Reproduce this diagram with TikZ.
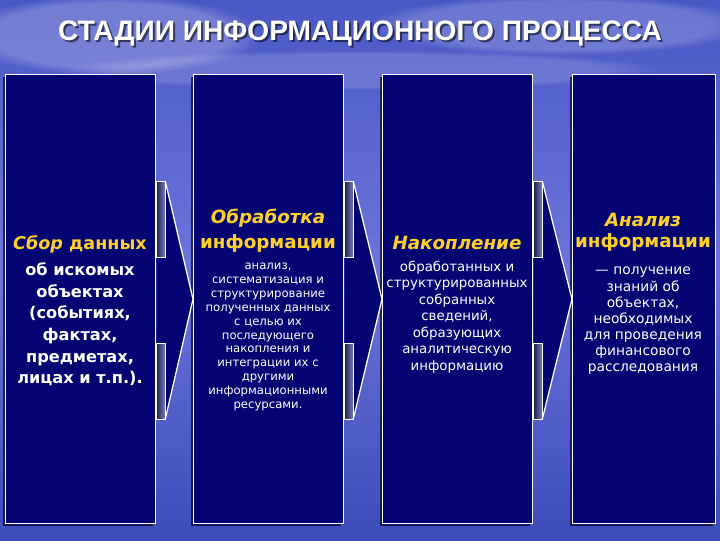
\documentclass[tikz,border=0pt]{standalone}
\usepackage{fontspec}
\setmainfont{DejaVu Sans}
\newfontfamily\titlefont{Liberation Sans}
\usepackage{tikz}
\usetikzlibrary{positioning,calc,shadows,fadings}

\newcommand\pxu{0.025cm}

\definecolor{boxnavy}{RGB}{4,4,114}
\definecolor{skytop}{RGB}{74,88,198}
\definecolor{skymid}{RGB}{108,116,218}
\definecolor{skybot}{RGB}{60,76,186}
\definecolor{headgold}{RGB}{255,208,40}
\definecolor{stripdark}{RGB}{30,30,55}
\definecolor{striplight}{RGB}{120,126,212}

\tikzset{
	stagebox/.style={fill=boxnavy, draw=white, line width=0.9pt, inner sep=0pt, anchor=north west,
		minimum width=150*\pxu, minimum height=449*\pxu,
		drop shadow={shadow xshift=-3*\pxu, shadow yshift=-2*\pxu, opacity=0.7, fill=black!80!blue}},
	stagehead/.style={text=headgold, align=center, inner sep=1pt, font=\bfseries\fontsize{13}{17.7}\selectfont},
	stagetext/.style={text=white, align=center, inner sep=1pt},
	tipline/.style={draw=white, line width=0.9pt},
	sidestrip/.style={left color=stripdark, right color=striplight, draw=white, line width=0.6pt}
}

\begin{document}
\begin{tikzpicture}[x=0.025cm, y=-0.025cm]
	\useasboundingbox (0,0) rectangle (720,540);
	
	%Sky
	\fill[top color=skytop, bottom color=skybot, middle color=skymid] (0,0) rectangle (720,540);
	\fill[white, opacity=0.22, path fading=circle with fuzzy edge 20 percent] (110,35) ellipse (150 and 40);
	\fill[white, opacity=0.18, path fading=circle with fuzzy edge 20 percent] (560,25) ellipse (190 and 30);
	\fill[white, opacity=0.15, path fading=circle with fuzzy edge 20 percent] (360,70) ellipse (300 and 20);
	
	%Title
	\node[black, opacity=0.55, font=\titlefont\bfseries\fontsize{20}{24}\selectfont] (titleshadow) at (362,35) {СТАДИИ ИНФОРМАЦИОННОГО ПРОЦЕССА};
	\node[white, font=\titlefont\bfseries\fontsize{20}{24}\selectfont] (title) at (360,33) {СТАДИИ ИНФОРМАЦИОННОГО ПРОЦЕССА};
	
	%Boxes
	\node[stagebox] (b1) at (5,74) {};
	\node[stagebox] (b2) at (193,74) {};
	\node[stagebox] (b3) at (382,74) {};
	\node[stagebox, minimum width=143*\pxu] (b4) at (572,74) {};
	
	%Chevrons
	\fill[boxnavy] ($(b1.east)+(0,-118)$) -- ($(b1.east)+(9,-118)$) -- (b2.west) -- ($(b1.east)+(9,120)$) -- ($(b1.east)+(0,120)$) -- cycle;
	\shade[sidestrip] ($(b1.east)+(0,-118)$) rectangle ($(b1.east)+(9,-42)$);
	\shade[sidestrip] ($(b1.east)+(0,44)$) rectangle ($(b1.east)+(9,120)$);
	\draw[tipline] ($(b1.east)+(9,-118)$) -- (b2.west) -- ($(b1.east)+(9,120)$);
	
	\fill[boxnavy] ($(b2.east)+(0,-118)$) -- ($(b2.east)+(9,-118)$) -- (b3.west) -- ($(b2.east)+(9,120)$) -- ($(b2.east)+(0,120)$) -- cycle;
	\shade[sidestrip] ($(b2.east)+(0,-118)$) rectangle ($(b2.east)+(9,-42)$);
	\shade[sidestrip] ($(b2.east)+(0,44)$) rectangle ($(b2.east)+(9,120)$);
	\draw[tipline] ($(b2.east)+(9,-118)$) -- (b3.west) -- ($(b2.east)+(9,120)$);
	
	\fill[boxnavy] ($(b3.east)+(0,-118)$) -- ($(b3.east)+(9,-118)$) -- (b4.west) -- ($(b3.east)+(9,120)$) -- ($(b3.east)+(0,120)$) -- cycle;
	\shade[sidestrip] ($(b3.east)+(0,-118)$) rectangle ($(b3.east)+(9,-42)$);
	\shade[sidestrip] ($(b3.east)+(0,44)$) rectangle ($(b3.east)+(9,120)$);
	\draw[tipline] ($(b3.east)+(9,-118)$) -- (b4.west) -- ($(b3.east)+(9,120)$);
	
	%Stage 1
	\node[stagehead, font=\bfseries\fontsize{12.5}{15}\selectfont] (h1) at (80,244) {\textit{Сбор} данных};
	\node[stagetext, font=\bfseries\fontsize{11.5}{15.4}\selectfont] (t1) at (80,324.5) {об искомых\\объектах\\(событиях,\\фактах,\\предметах,\\лицах и т.п.).};
	
	%Stage 2
	\node[stagehead] (h2) at (268,230.5) {\textit{Обработка}\\информации};
	\node[stagetext, font=\fontsize{8.3}{9.9}\selectfont] (t2) at (268,337) {анализ,\\систематизация и\\структурирование\\полученных данных\\с целью их\\последующего\\накопления и\\интеграции их с\\другими\\информационными\\ресурсами.};
	
	%Stage 3
	\node[stagehead] (h3) at (457,243) {\textit{Накопление}};
	\node[stagetext, font=\fontsize{9.5}{11.8}\selectfont] (t3) at (457,317) {обработанных и\\структурированных\\собранных\\сведений,\\образующих\\аналитическую\\информацию};
	
	%Stage 4
	\node[stagehead, font=\bfseries\fontsize{13}{15}\selectfont] (h4) at (643,232.5) {\textit{Анализ}\\информации};
	\node[stagetext, font=\fontsize{9.8}{11.5}\selectfont] (t4) at (643,321) {— получение\\знаний об\\объектах,\\необходимых\\для проведения\\финансового\\расследования};
\end{tikzpicture}
\end{document}
